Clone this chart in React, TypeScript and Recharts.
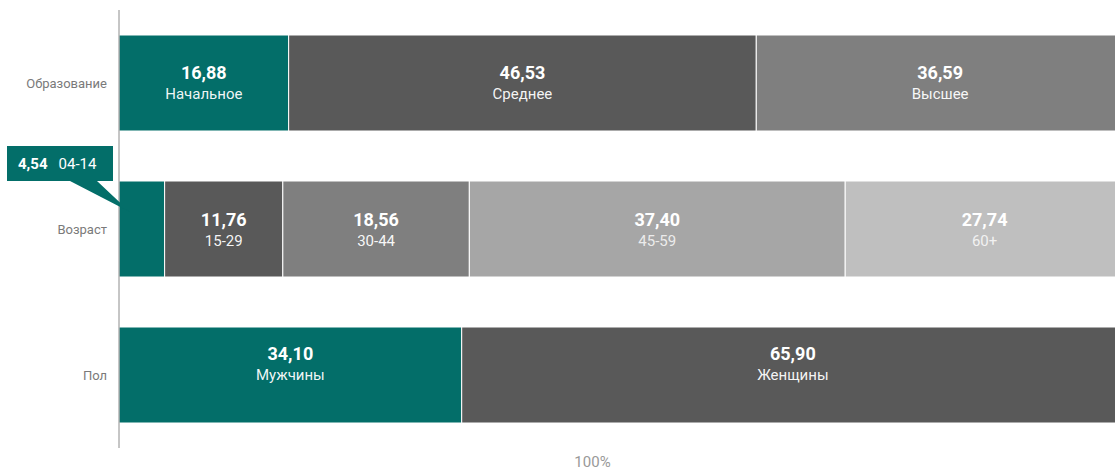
import { BarChart, Bar, XAxis, YAxis, LabelList } from 'recharts';

const categories = ['Образование', 'Возраст', 'Пол'];

const educationNames = ['Начальное', 'Среднее', 'Высшее'];
const educationValues = [16.88, 46.53, 36.59];

const ageNames = ['04-14', '15-29', '30-44', '45-59', '60+'];
const ageValues = [4.54, 11.76, 18.56, 37.4, 27.74];

const genderNames = ['Мужчины', 'Женщины'];
const genderValues = [34.1, 65.9];

const segmentColors = ['#036e69', '#595959', '#7f7f7f', '#a6a6a6', '#bfbfbf'];

// label vertical shift per row (the reference sits the "Пол" labels a bit higher)
const labelShift = [-1, 0, -12];

const groups = [
    { names: educationNames, values: educationValues },
    { names: ageNames, values: ageValues },
    { names: genderNames, values: genderValues },
];

const data = categories.map((category, i) => {
    const row: Record<string, string | number | undefined> = { category };
    groups[i].values.forEach((v, k) => {
        row[`s${k}`] = v;
    });
    return row;
});

const fmt = (v: number) => v.toFixed(2).replace('.', ',');

const FONT = 'Roboto, "Noto Sans", sans-serif';

function makeLabel(k: number) {
    return (props: any) => {
        const { x, y, width, height, value } = props;
        if (value == null) return null;
        const gi = groups.findIndex((g) => g.values[k] === value);
        if (gi < 0) return null;
        const name = groups[gi].names[k];
        const cx = x + width / 2;
        const cy = y + height / 2 + labelShift[gi];
        if (width < 60) {
            // callout for a narrow segment
            const tipX = x + 11;
            const tipY = y + 31;
            const left = x - 112;
            const right = x - 6;
            const top = y - 35;
            const bottom = y;
            return (
                <g>
                    <path
                        d={`M${left},${top} L${right},${top} L${right},${bottom} L${x - 22},${bottom} L${tipX},${tipY} L${x - 49},${bottom} L${left},${bottom} Z`}
                        fill={segmentColors[0]}
                    />
                    <text x={left + 11} y={top + 23} fill="#fff" fontFamily={FONT} fontSize={15}>
                        <tspan fontWeight="bold">{fmt(value)}</tspan>
                        <tspan dx={11}>{name}</tspan>
                    </text>
                </g>
            );
        }
        return (
            <g fontFamily={FONT} textAnchor="middle">
                <text x={cx} y={cy - 3} fill="#fff" fontSize={18} fontWeight="bold">
                    {fmt(value)}
                </text>
                <text x={cx} y={cy + 17} fill="#fff" fillOpacity={k >= 3 ? 0.8 : 0.95} fontSize={15}>
                    {name}
                </text>
            </g>
        );
    };
}

export default function App() {
    return (
        <div style={{ position: 'absolute', left: 0, top: 0 }}>
            <BarChart
                width={1125}
                height={471}
                data={data}
                layout="vertical"
                margin={{ top: 10, right: 1, left: 0, bottom: 0 }}
                barSize={96}
            >
                <XAxis
                    type="number"
                    domain={[0, 100]}
                    height={23}
                    tick={false}
                    axisLine={false}
                    tickLine={false}
                    label={{
                        value: '100%',
                        position: 'insideBottom',
                        offset: 4,
                        dx: -29,
                        fill: '#999',
                        fontSize: 15,
                        fontFamily: FONT,
                    }}
                />
                <YAxis
                    type="category"
                    dataKey="category"
                    width={119}
                    tickLine={false}
                    tickMargin={6}
                    axisLine={{ stroke: '#8c8c8c' }}
                    tick={{ fill: '#7a7a7a', fontSize: 13, fontFamily: FONT }}
                />
                {segmentColors.map((color, k) => (
                    <Bar
                        key={k}
                        dataKey={`s${k}`}
                        stackId="a"
                        fill={color}
                        stroke="#fff"
                        strokeWidth={1}
                        isAnimationActive={false}
                    >
                        <LabelList dataKey={`s${k}`} content={makeLabel(k)} />
                    </Bar>
                ))}
            </BarChart>
        </div>
    );
}
